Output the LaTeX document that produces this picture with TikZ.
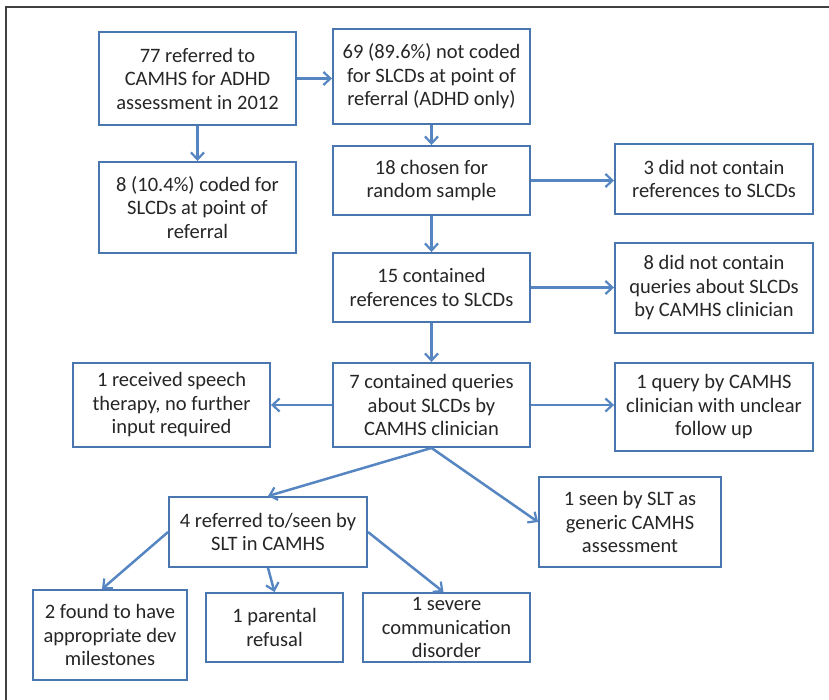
\documentclass[tikz,border=0pt]{standalone}
\usepackage{fontspec}
\setmainfont{Carlito}
\usepackage{tikz}
\usetikzlibrary{arrows.meta,positioning,calc}
\usepackage{xcolor}
\definecolor{meuazul}{RGB}{74,118,176}
\definecolor{meuazulclaro}{RGB}{86,134,194}
\definecolor{meucinza}{RGB}{38,38,38}

\begin{document}
\begin{tikzpicture}[x=1pt, y=-1pt,
        caixa/.style={draw=meuazul, line width=1.9pt, fill=white, inner sep=0pt, align=center, text=meucinza, font=\fontsize{20.5}{23.5}\selectfont},
        flecha/.style={-{Straight Barb[length=7pt,width=13pt,line width=2.2pt]}, line width=2.5pt, meuazulclaro}
    ]
        \useasboundingbox (0,0) rectangle (829,700);
        \draw[line width=1.3pt, black!75] (6,700) -- (6,7) -- (829,7);

        \node[caixa, minimum width=197pt, minimum height=93pt] (c1) at (197.5,78.5) {77 referred to\\CAMHS for ADHD\\assessment in 2012};
        \node[caixa, minimum width=197pt, minimum height=95pt] (c2) at (431.5,76.5) {69 (89.6\%) not coded\\for SLCDs at point of\\referral (ADHD only)};
        \node[caixa, minimum width=197pt, minimum height=69pt] (c3) at (431.5,180.5) {18 chosen for\\random sample};
        \node[caixa, minimum width=198pt, minimum height=70pt] (c4) at (714,179) {3 did not contain\\references to SLCDs};
        \node[caixa, minimum width=197pt, minimum height=91pt] (c5) at (197.5,207.5) {8 (10.4\%) coded for\\SLCDs at point of\\referral};
        \node[caixa, minimum width=197pt, minimum height=69pt] (c6) at (431.5,287.5) {15 contained\\references to SLCDs};
        \node[caixa, minimum width=198pt, minimum height=90pt] (c7) at (714,288) {8 did not contain\\queries about SLCDs\\by CAMHS clinician};
        \node[caixa, minimum width=197pt, minimum height=84pt] (c8) at (431.5,405) {7 contained queries\\about SLCDs by\\CAMHS clinician};
        \node[caixa, minimum width=197pt, minimum height=84pt] (c9) at (171.5,405) {1 received speech\\therapy, no further\\input required};
        \node[caixa, minimum width=198pt, minimum height=88pt] (c10) at (714,407) {1 query by CAMHS\\clinician with unclear\\follow up};
        \node[caixa, minimum width=182pt, minimum height=90pt] (c11) at (630,522) {1 seen by SLT as\\generic CAMHS\\assessment};
        \node[caixa, minimum width=198pt, minimum height=70pt] (c12) at (268,532) {4 referred to/seen by\\SLT in CAMHS};
        \node[caixa, minimum width=154pt, minimum height=90pt] (c13) at (110,635) {2 found to have\\appropriate dev\\milestones};
        \node[caixa, minimum width=137pt, minimum height=69pt] (c14) at (274.5,627.5) {1 parental\\refusal};
        \node[caixa, minimum width=167pt, minimum height=69pt] (c15) at (446.5,627.5) {1 severe\\communication\\disorder};

        \draw[flecha] (c1.east) -- (c1.east -| c2.west);
        \draw[flecha] (c1) -- (c5);
        \draw[flecha] (c2) -- (c3);
        \draw[flecha] (c3.east) -- (c3.east -| c4.west);
        \draw[flecha] (c3) -- (c6);
        \draw[flecha] (c6.east) -- (c6.east -| c7.west);
        \draw[flecha] (c6) -- (c8);
        \draw[flecha] (c8.west) -- (c8.west -| c9.east);
        \draw[flecha] (c8.east) -- (c8.east -| c10.west);
        \draw[flecha] (c8.south) -- (c12.north);
        \draw[flecha] (c8.south) -- (c11.west);
        \draw[flecha] (c12.west) -- ([xshift=-8pt]c13.north);
        \draw[flecha] (c12.south) -- (c14.north);
        \draw[flecha] (c12.east) -- ([xshift=-3pt]c15.north);

    \end{tikzpicture}
\end{document}
